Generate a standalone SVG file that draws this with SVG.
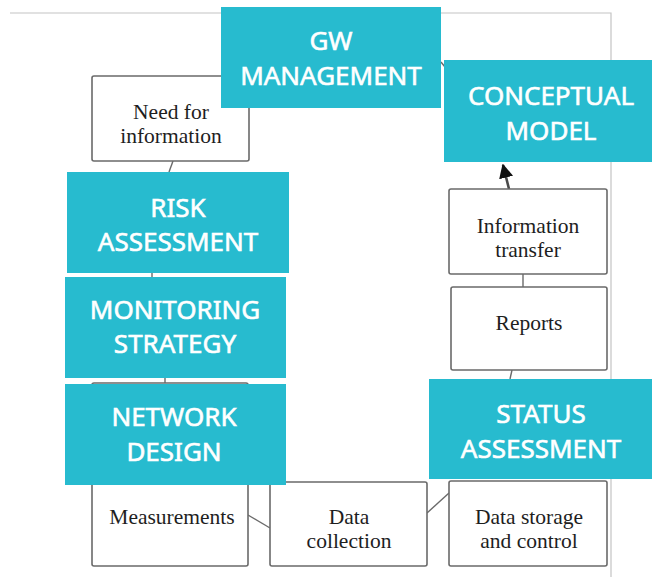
<svg xmlns="http://www.w3.org/2000/svg" width="652" height="577" viewBox="0 0 652 577">
  <style>
    .frame { stroke: #c4c4c4; stroke-width: 1.2; fill: none; }
    .box { fill: #ffffff; stroke: #6a6a6a; stroke-width: 1.6; }
    .teal { fill: #27bbcf; }
    .link { stroke: #6a6a6a; stroke-width: 1.4; fill: none; }
    .lbl { font-family: "Liberation Serif", "Times New Roman", serif; font-size: 21.5px; fill: #1e1e1e; text-anchor: middle; }
    .big { font-family: "Noto Sans", "Open Sans", sans-serif; font-size: 26px; fill: #ffffff; stroke: #ffffff; stroke-width: 0.6; text-anchor: middle; }
  </style>
  <defs>
    <marker id="head" viewBox="0 0 10 10" refX="9" refY="5" markerWidth="5.5" markerHeight="5.5" orient="auto" markerUnits="strokeWidth">
      <path d="M0,0 L10,5 L0,10 z" fill="#111111"/>
    </marker>
  </defs>

  <rect width="652" height="577" fill="#ffffff"/>

  <!-- page frame -->
  <path class="frame" d="M10,13 H611 V577"/>

  <g id="connectors">
    <line class="link" x1="173" y1="161" x2="169" y2="172"/>
    <line class="link" x1="152" y1="273" x2="152" y2="277"/>
    <line class="link" x1="165" y1="378" x2="165" y2="384"/>
    <line class="link" x1="248" y1="515" x2="270" y2="528"/>
    <line class="link" x1="427" y1="513" x2="449" y2="493"/>
    <line class="link" x1="512" y1="370" x2="510" y2="379"/>
    <line class="link" x1="523" y1="274" x2="523" y2="287"/>
    <line class="link" x1="441" y1="62" x2="445" y2="67"/>
    <line x1="509" y1="189" x2="503" y2="165" stroke="#4a4a4a" stroke-width="2.6" marker-end="url(#head)"/>
  </g>

  <g id="need-for-information">
    <rect class="box" x="92" y="76" width="157" height="85" rx="2"/>
    <text class="lbl" x="171" y="119">Need for</text>
    <text class="lbl" x="171" y="143">information</text>
  </g>

  <g id="measurements">
    <rect class="box" x="92" y="383" width="156" height="183" rx="2"/>
    <text class="lbl" x="172" y="524">Measurements</text>
  </g>

  <g id="data-collection">
    <rect class="box" x="270" y="482" width="157" height="84" rx="2"/>
    <text class="lbl" x="349" y="524">Data</text>
    <text class="lbl" x="349" y="548">collection</text>
  </g>

  <g id="data-storage">
    <rect class="box" x="449" y="481" width="158" height="85" rx="2"/>
    <text class="lbl" x="529" y="524">Data storage</text>
    <text class="lbl" x="529" y="548">and control</text>
  </g>

  <g id="reports">
    <rect class="box" x="451" y="287" width="156" height="83" rx="2"/>
    <text class="lbl" x="529" y="330">Reports</text>
  </g>

  <g id="information-transfer">
    <rect class="box" x="449" y="189" width="158" height="85" rx="2"/>
    <text class="lbl" x="528" y="233">Information</text>
    <text class="lbl" x="528" y="257">transfer</text>
  </g>

  <g id="gw-management">
    <rect class="teal" x="221" y="7" width="220" height="101"/>
    <text class="big" x="331" y="50">GW</text>
    <text class="big" x="331" y="85">MANAGEMENT</text>
  </g>

  <g id="conceptual-model">
    <rect class="teal" x="444" y="60" width="214" height="102"/>
    <text class="big" x="551" y="105">CONCEPTUAL</text>
    <text class="big" x="551" y="140">MODEL</text>
  </g>

  <g id="risk-assessment">
    <rect class="teal" x="67" y="172" width="222" height="101"/>
    <text class="big" x="178" y="217">RISK</text>
    <text class="big" x="178" y="251">ASSESSMENT</text>
  </g>

  <g id="monitoring-strategy">
    <rect class="teal" x="65" y="277" width="221" height="101"/>
    <text class="big" x="175" y="319">MONITORING</text>
    <text class="big" x="175" y="353">STRATEGY</text>
  </g>

  <g id="network-design">
    <rect class="teal" x="65" y="384" width="221" height="101"/>
    <text class="big" x="174" y="426">NETWORK</text>
    <text class="big" x="174" y="461">DESIGN</text>
  </g>

  <g id="status-assessment">
    <rect class="teal" x="429" y="379" width="224" height="100"/>
    <text class="big" x="541" y="423">STATUS</text>
    <text class="big" x="541" y="458">ASSESSMENT</text>
  </g>
</svg>
